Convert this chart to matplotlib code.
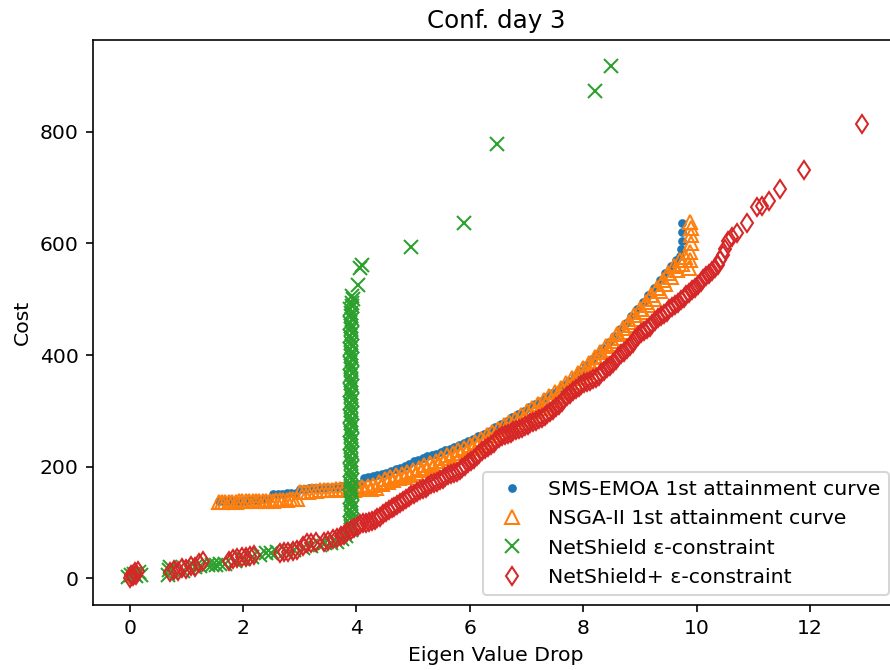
import matplotlib
matplotlib.use("Agg")
import matplotlib.pyplot as plt

# SMS-EMOA 1st attainment curve
sms_x = [1.57, 1.65, 1.73, 1.81, 1.89, 1.97, 2.05, 2.13, 2.21, 2.29, 2.37, 2.45,
         2.53, 2.61, 2.69, 2.77, 2.85, 2.93, 3.01, 3.09, 3.17, 3.25, 3.33, 3.41,
         3.49, 3.57, 3.65, 3.73, 3.81, 3.89, 3.97, 4.05, 4.13, 4.21, 4.29, 4.37,
         4.45, 4.53, 4.61, 4.69, 4.77, 4.85, 4.93, 5.01, 5.09, 5.17, 5.25, 5.33,
         5.41, 5.49, 5.57, 5.65, 5.73, 5.81, 5.89, 5.97, 6.05, 6.15, 6.25, 6.35,
         6.45, 6.55, 6.65, 6.75, 6.85, 6.95, 7.05, 7.15, 7.25, 7.35, 7.45, 7.55,
         7.65, 7.75, 7.85, 7.95, 8.05, 8.15, 8.25, 8.35, 8.45, 8.55, 8.65, 8.75,
         8.85, 8.95, 9.05, 9.15, 9.25, 9.35, 9.45, 9.55, 9.63, 9.70, 9.73, 9.74,
         9.74, 9.75]
sms_y = [138, 138, 138, 139, 139, 139, 139, 140, 140, 140, 141, 141,
         150, 151, 151, 152, 152, 152, 160, 160, 161, 161, 162, 162,
         163, 163, 164, 165, 165, 166, 167, 168, 180, 181, 183, 185,
         187, 189, 192, 195, 198, 201, 205, 209, 212, 215, 218, 221,
         223, 226, 229, 232, 235, 238, 242, 246, 250, 255, 259, 264,
         270, 276, 282, 288, 294, 300, 306, 312, 318, 324, 331, 338,
         346, 354, 363, 372, 382, 392, 402, 413, 424, 434, 446, 458,
         470, 482, 495, 508, 521, 534, 547, 560, 570, 578, 590, 605,
         620, 636]

# NSGA-II 1st attainment curve
nsga_x = [1.57, 1.63, 1.69, 1.75, 1.81, 1.87, 1.93, 1.99, 2.05, 2.11, 2.17, 2.23,
          2.29, 2.35, 2.41, 2.47, 2.53, 2.59, 2.65, 2.71, 2.77, 2.83, 2.89, 2.95,
          3.01, 3.08, 3.15, 3.22, 3.29, 3.36, 3.43, 3.50, 3.57, 3.64, 3.71, 3.78,
          3.85, 3.90, 3.95, 4.00, 4.05, 4.10, 4.15, 4.20, 4.25, 4.30, 4.35, 4.40,
          4.45, 4.50, 4.55, 4.60, 4.65, 4.70, 4.75, 4.80, 4.85, 4.90, 4.95, 5.00,
          5.05, 5.10, 5.15, 5.20, 5.25, 5.30, 5.35, 5.40, 5.45, 5.50, 5.55, 5.60,
          5.65, 5.70, 5.75, 5.80, 5.85, 5.90, 5.95, 6.00, 6.05, 6.10, 6.15, 6.20,
          6.25, 6.30, 6.35, 6.40, 6.45, 6.50, 6.55, 6.60, 6.65, 6.70, 6.75, 6.80,
          6.85, 6.90, 6.95, 7.00, 7.05, 7.10, 7.15, 7.20, 7.25, 7.30, 7.35, 7.40,
          7.45, 7.50, 7.55, 7.60, 7.65, 7.70, 7.75, 7.80, 7.85, 7.90, 7.95, 8.00,
          8.05, 8.10, 8.15, 8.20, 8.25, 8.30, 8.35, 8.40, 8.45, 8.50, 8.55, 8.60,
          8.65, 8.70, 8.75, 8.80, 8.85, 8.90, 8.95, 9.00, 9.05, 9.10, 9.15, 9.20,
          9.25, 9.30, 9.35, 9.40, 9.45, 9.50, 9.55, 9.60, 9.65, 9.70, 9.75, 9.80,
          9.86, 9.88, 9.89, 9.90, 9.90, 9.90, 9.89]
nsga_y = [137, 137, 137, 137, 137, 137, 138, 138, 138, 138, 138, 138,
          139, 139, 139, 139, 139, 140, 140, 140, 140, 141, 141, 141,
          154, 155, 155, 156, 156, 157, 157, 158, 158, 159, 159, 159,
          158, 162, 158, 163, 159, 164, 160, 165, 160, 166, 161, 172,
          168, 177, 172, 181, 176, 184, 179, 187, 182, 190, 185, 194,
          189, 198, 193, 202, 197, 206, 201, 210, 205, 215, 210, 220,
          215, 225, 219, 229, 224, 234, 228, 239, 233, 244, 238, 250,
          244, 256, 250, 262, 256, 268, 262, 274, 268, 280, 274, 286,
          280, 292, 286, 299, 292, 305, 299, 312, 305, 319, 312, 326,
          319, 333, 327, 341, 335, 349, 343, 358, 351, 367, 360, 376,
          369, 386, 379, 396, 389, 406, 399, 416, 409, 426, 420, 437,
          431, 448, 442, 459, 453, 471, 465, 483, 477, 495, 489, 508,
          501, 521, 514, 534, 527, 547, 540, 559, 553, 570, 563, 576,
          556, 570, 585, 600, 615, 628, 638]

# NetShield epsilon-constraint
ns_x = [-0.02, 0.03, 0.08, 0.12, 0.16, 0.20, 0.68, 0.70, 0.72, 0.95, 1.05, 1.15,
        1.25, 1.38, 1.45, 1.52, 1.60, 1.68, 1.85, 2.00, 2.15, 2.30, 2.40, 2.50,
        2.60, 2.75, 2.90, 3.05, 3.20, 3.35, 3.45, 3.55, 3.65, 3.75, 3.82,
        3.90, 3.91, 3.89, 3.92, 3.90, 3.91, 3.89, 3.92, 3.90, 3.91, 3.89, 3.92,
        3.90, 3.91, 3.89, 3.92, 3.90, 3.91, 3.89, 3.92, 3.90, 3.91, 3.89, 3.92,
        3.90, 3.91, 3.89, 3.92, 3.90, 3.91, 3.89, 3.92, 3.90, 3.91, 3.89, 3.92,
        3.90, 3.91, 3.89, 3.92, 3.90, 3.91, 3.89, 3.92, 3.90, 3.91, 3.89, 3.92,
        3.90, 3.91, 3.89, 3.92, 3.90, 3.91, 3.89, 3.92, 3.90, 3.91, 3.89, 3.92,
        3.90, 3.91, 3.89, 3.92, 3.90, 3.91, 3.89, 3.92, 3.93, 3.94, 3.92,
        4.02, 4.07, 4.09, 4.97, 5.89, 6.48, 8.21, 8.49]
ns_y = [2, 5, 8, 4, 10, 6, 5, 15, 20, 12, 18, 20,
        22, 23, 24, 24, 25, 26, 30, 35, 38, 42, 44, 45,
        46, 48, 50, 54, 58, 60, 62, 63, 65, 70, 76,
        86, 92, 98, 104, 110, 116, 122, 128, 134, 140, 146, 152,
        158, 164, 170, 176, 182, 188, 194, 200, 206, 212, 218, 224,
        230, 236, 242, 248, 254, 260, 266, 272, 278, 284, 290, 296,
        302, 308, 314, 320, 326, 332, 338, 344, 350, 356, 362, 368,
        374, 380, 386, 392, 398, 404, 410, 416, 422, 428, 434, 440,
        446, 452, 458, 464, 470, 476, 482, 488, 494, 500, 506,
        525, 556, 562, 594, 636, 779, 874, 919]

# NetShield+ epsilon-constraint
nsp_x = [0.00, 0.03, 0.06, 0.09, 0.12, 0.15,
         0.72, 0.78, 0.85, 0.92, 1.00, 1.08, 1.15, 1.22, 1.30,
         1.75, 1.82, 1.90, 1.98, 2.05, 2.12, 2.20,
         2.65, 2.72, 2.80, 2.88, 2.95, 3.05, 3.12, 3.20, 3.28,
         3.42, 3.50, 3.58, 3.66, 3.72, 3.78, 3.84, 3.90, 3.96,
         4.02, 4.07, 4.12, 4.17, 4.22, 4.27, 4.32, 4.37, 4.42, 4.47, 4.52, 4.57,
         4.62, 4.67, 4.72, 4.77, 4.82, 4.87, 4.92, 4.97, 5.02, 5.07, 5.12, 5.17,
         5.22, 5.27, 5.32, 5.37, 5.42, 5.47, 5.52, 5.57, 5.62, 5.67, 5.72, 5.77,
         5.82, 5.87, 5.92, 5.97, 6.02, 6.07, 6.12, 6.17, 6.22, 6.27, 6.32, 6.37,
         6.42, 6.47, 6.52, 6.57, 6.62, 6.67, 6.72, 6.77, 6.82, 6.87, 6.92, 6.97,
         7.02, 7.07, 7.12, 7.17, 7.22, 7.27, 7.32, 7.37, 7.42, 7.47, 7.52, 7.57,
         7.62, 7.67, 7.72, 7.77, 7.82, 7.87, 7.92, 7.97, 8.02, 8.07, 8.12, 8.17,
         8.22, 8.27, 8.32, 8.37, 8.42, 8.47, 8.52, 8.57, 8.62, 8.67, 8.72, 8.77,
         8.82, 8.87, 8.92, 8.97, 9.02, 9.07, 9.12, 9.17, 9.22, 9.27, 9.32, 9.37,
         9.42, 9.47, 9.52, 9.57, 9.62, 9.67, 9.72, 9.77, 9.82, 9.87, 9.92, 9.97,
         10.02, 10.07, 10.12, 10.17, 10.22, 10.27, 10.32, 10.37, 10.42, 10.46,
         10.50, 10.55, 10.62, 10.71, 10.89, 11.06, 11.15, 11.28, 11.47, 11.89, 12.92]
nsp_y = [0, 6, 3, 10, 5, 12,
         10, 14, 12, 18, 16, 22, 20, 27, 30,
         30, 34, 36, 38, 37, 40, 42,
         45, 47, 46, 48, 50, 58, 62, 63, 65,
         64, 66, 70, 72, 75, 78, 82, 86, 90,
         93, 96, 98, 99, 101, 103, 104, 107, 109, 114, 118, 122,
         125, 128, 131, 135, 139, 142, 146, 149, 151, 155, 158, 160,
         162, 165, 168, 170, 173, 176, 178, 181, 184, 187, 189, 191,
         194, 197, 201, 206, 210, 214, 219, 223, 227, 231, 235, 239,
         243, 247, 251, 254, 257, 259, 261, 263, 265, 267, 269, 272,
         275, 278, 280, 282, 285, 287, 290, 294, 298, 302, 306, 311,
         316, 321, 326, 330, 335, 339, 343, 346, 349, 352, 354, 357,
         359, 363, 367, 371, 376, 381, 386, 391, 396, 401, 406, 411,
         416, 422, 428, 434, 439, 443, 447, 451, 456, 461, 466, 470,
         474, 478, 482, 486, 490, 494, 498, 502, 507, 511, 516, 521,
         526, 531, 536, 541, 546, 551, 556, 562, 570, 580,
         590, 605, 612, 618, 636, 665, 668, 677, 698, 732, 815]

DPI = 147
fig = plt.figure(figsize=(890 / DPI, 670 / DPI), dpi=DPI)
ax = fig.add_axes([93 / 890, 65 / 670, (899 - 93) / 890, (605 - 40) / 670])

ax.plot(sms_x, sms_y, linestyle="none", marker=".", color="#1f77b4",
        markersize=6.5, label="SMS-EMOA 1st attainment curve")
ax.plot(nsga_x, nsga_y, linestyle="none", marker="^", markerfacecolor="none",
        markeredgecolor="#ff7f0e", color="#ff7f0e", markersize=6.5,
        label="NSGA-II 1st attainment curve")
ax.plot(ns_x, ns_y, linestyle="none", marker="x", color="#2ca02c", markersize=6.5,
        label="NetShield ε-constraint")
ax.plot(nsp_x, nsp_y, linestyle="none", marker="d", markerfacecolor="none",
        markeredgecolor="#d62728", color="#d62728", markersize=6.5,
        label="NetShield+ ε-constraint")

ax.set_xlim(-0.646, 13.57)
ax.set_ylim(-48.4, 965)
ax.set_title("Conf. day 3")
ax.set_xlabel("Eigen Value Drop")
ax.set_ylabel("Cost")
ax.set_xticks([0, 2, 4, 6, 8, 10, 12])
ax.set_yticks([0, 200, 400, 600, 800])
ax.legend(loc="lower right", bbox_to_anchor=(889 / 890, 75 / 670),
          bbox_transform=fig.transFigure, borderaxespad=0)

fig.savefig("out.png", dpi=DPI)
